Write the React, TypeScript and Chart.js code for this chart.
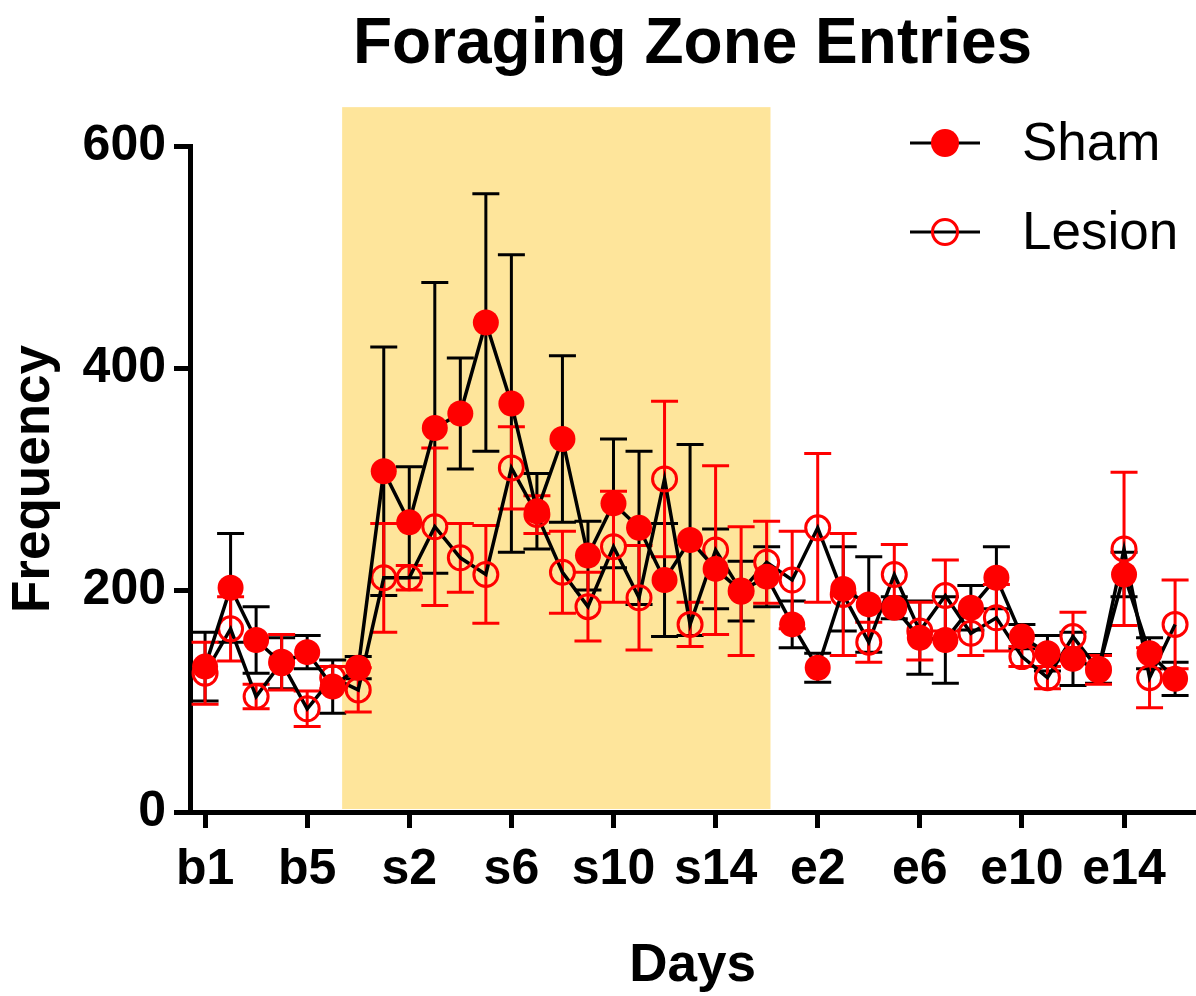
import { useEffect, useRef } from "react";
import { Chart, registerables } from "chart.js";

Chart.register(...registerables);

const days = [
  "b1", "b2", "b3", "b4", "b5", "b6", "b7",
  "s1", "s2", "s3", "s4", "s5", "s6", "s7", "s8", "s9", "s10", "s11", "s12", "s13", "s14", "s15", "s16",
  "e1", "e2", "e3", "e4", "e5", "e6", "e7", "e8", "e9", "e10", "e11", "e12", "e13", "e14", "e15", "e16",
];
const tickDays = ["b1", "b5", "s2", "s6", "s10", "s14", "e2", "e6", "e10", "e14"];
const yTicks = [0, 200, 400, 600];

const shamMean = [
  131, 202, 155, 134, 144, 113, 130,
  307, 261, 346, 359, 441, 368, 271, 336, 231, 278, 256, 209, 245, 219, 199, 212,
  169, 130, 201, 187, 184, 157, 155, 184, 211, 158, 143, 138, 129, 214, 143, 120,
];
const shamSem = [
  31, 49, 30, 23, 15, 24, 10,
  112, 50, 131, 50, 116, 134, 34, 75, 31, 58, 69, 51, 86, 36, 27, 27,
  21, 13, 38, 43, 10, 33, 39, 20, 28, 11, 16, 24, 13, 20, 14, 15,
];
const lesionMean = [
  125, 165, 104, 135, 93, 121, 110,
  211, 211, 257, 229, 214, 310, 268, 216, 185, 239, 193, 300, 169, 236, 199, 225,
  209, 256, 196, 153, 214, 163, 195, 161, 175, 140, 121, 158, 128, 237, 121, 169,
];
const lesionSem = [
  28, 29, 11, 25, 16, 10, 20,
  49, 11, 71, 31, 44, 37, 17, 37, 31, 50, 47, 70, 20, 76, 58, 37,
  44, 67, 55, 18, 27, 26, 32, 20, 30, 9, 10, 22, 13, 69, 27, 40,
];

// shaded "session" band, in axis units
const shadeStart = 5.37;
const shadeEnd = 22.15;
const shadeTop = 635;

const FONT = "'Liberation Sans', Arial, Helvetica, sans-serif";

export default function App() {
  const ref = useRef<HTMLCanvasElement | null>(null);

  useEffect(() => {
    if (!ref.current) return;

    const bgPlugin = {
      id: "bgShade",
      beforeDraw(chart: any) {
        const { ctx, scales } = chart;
        const x = scales.x, y = scales.y;
        ctx.save();
        ctx.fillStyle = "#ffffff";
        ctx.fillRect(0, 0, chart.width, chart.height);
        ctx.fillStyle = "#FEE59B";
        const x0 = x.getPixelForValue(shadeStart);
        const x1 = x.getPixelForValue(shadeEnd);
        const y0 = y.getPixelForValue(shadeTop);
        const y1 = y.getPixelForValue(0) - 3;
        ctx.fillRect(x0, y0, x1 - x0, y1 - y0);
        ctx.restore();
      },
    };

    const errPlugin = {
      id: "errBars",
      beforeDatasetsDraw(chart: any) {
        const { ctx, scales } = chart;
        const x = scales.x, y = scales.y;
        chart.data.datasets.forEach((ds: any) => {
          ctx.save();
          ctx.strokeStyle = ds.errColor;
          ctx.lineWidth = 3;
          ds.data.forEach((p: any, i: number) => {
            const e = ds.sem[i];
            const px = x.getPixelForValue(p.x);
            const top = y.getPixelForValue(p.y + e);
            const bot = y.getPixelForValue(p.y - e);
            const w = 13.5;
            ctx.beginPath();
            ctx.moveTo(px, top);
            ctx.lineTo(px, bot);
            ctx.moveTo(px - w, top);
            ctx.lineTo(px + w, top);
            ctx.moveTo(px - w, bot);
            ctx.lineTo(px + w, bot);
            ctx.stroke();
          });
          ctx.restore();
        });
      },
    };

    const textPlugin = {
      id: "titleLegend",
      afterDraw(chart: any) {
        const { ctx, chartArea } = chart;
        ctx.save();
        ctx.fillStyle = "#000";
        ctx.font = `bold 64px ${FONT}`;
        ctx.textAlign = "center";
        ctx.textBaseline = "alphabetic";
        ctx.fillText("Foraging Zone Entries", (chartArea.left + chartArea.right) / 2, 63);

        const rows = [143, 232];
        chart.data.datasets.forEach((ds: any, i: number) => {
          const cy = rows[i];
          ctx.strokeStyle = "#000";
          ctx.lineWidth = 3;
          ctx.beginPath();
          ctx.moveTo(910, cy);
          ctx.lineTo(980, cy);
          ctx.stroke();
          ctx.beginPath();
          ctx.arc(945, cy, ds.pointRadius + (ds.pointBorderWidth ? 0.5 : 1), 0, Math.PI * 2);
          if (ds.pointBorderWidth) {
            ctx.strokeStyle = ds.pointBorderColor;
            ctx.lineWidth = ds.pointBorderWidth;
            ctx.stroke();
          } else {
            ctx.fillStyle = ds.pointBackgroundColor;
            ctx.fill();
          }
          ctx.fillStyle = "#000";
          ctx.font = `53px ${FONT}`;
          ctx.textAlign = "left";
          ctx.textBaseline = "middle";
          ctx.fillText(ds.label, 1022, cy + 2);
        });
        ctx.restore();
      },
    };

    const chart = new Chart(ref.current, {
      type: "line",
      data: {
        datasets: [
          {
            label: "Sham",
            data: shamMean.map((v, i) => ({ x: i, y: v })),
            sem: shamSem,
            errColor: "#000000",
            borderColor: "#000000",
            borderWidth: 3.5,
            pointRadius: 13,
            pointHoverRadius: 13,
            pointBackgroundColor: "#FF0000",
            pointBorderColor: "#FF0000",
            pointBorderWidth: 0,
            tension: 0,
          } as any,
          {
            label: "Lesion",
            data: lesionMean.map((v, i) => ({ x: i, y: v })),
            sem: lesionSem,
            errColor: "#FF0000",
            borderColor: "#000000",
            borderWidth: 3.5,
            pointRadius: 12,
            pointHoverRadius: 12,
            pointBackgroundColor: "rgba(0,0,0,0)",
            pointBorderColor: "#FF0000",
            pointBorderWidth: 3,
            tension: 0,
          } as any,
        ],
      },
      options: {
        animation: false,
        responsive: false,
        maintainAspectRatio: false,
        events: [],
        layout: { autoPadding: false, padding: { left: 0, right: 1, top: 146, bottom: 0 } },
        plugins: {
          legend: { display: false },
          title: { display: false },
          tooltip: { enabled: false },
        },
        scales: {
          x: {
            type: "linear",
            min: -0.59,
            max: 38.78,
            afterFit(scale: any) {
              scale.height = 184;
            },
            afterBuildTicks(scale: any) {
              scale.ticks = tickDays.map((d) => ({ value: days.indexOf(d) }));
            },
            ticks: {
              autoSkip: false,
              maxRotation: 0,
              padding: 12,
              color: "#000",
              font: { family: FONT, size: 50, weight: "bold" },
              callback: (v: any) => days[Math.round(Number(v))],
            },
            grid: {
              display: true,
              drawOnChartArea: false,
              drawTicks: true,
              tickLength: 16,
              tickWidth: 5,
              tickColor: "#000",
            },
            border: { display: true, width: 5, color: "#000" },
            title: {
              display: true,
              text: "Days",
              color: "#000",
              font: { family: FONT, size: 53, weight: "bold", lineHeight: 1 },
              padding: { top: 0, bottom: 3 },
            },
          },
          y: {
            type: "linear",
            min: 0,
            max: 600,
            afterFit(scale: any) {
              scale.width = 190;
            },
            afterBuildTicks(scale: any) {
              scale.ticks = yTicks.map((v) => ({ value: v }));
            },
            ticks: {
              padding: 8,
              color: "#000",
              font: { family: FONT, size: 50, weight: "bold" },
            },
            grid: {
              display: true,
              drawOnChartArea: false,
              drawTicks: true,
              tickLength: 16,
              tickWidth: 5,
              tickColor: "#000",
            },
            border: { display: true, width: 5, color: "#000" },
            title: {
              display: true,
              text: "Frequency",
              color: "#000",
              font: { family: FONT, size: 53, weight: "bold", lineHeight: 1 },
              padding: { top: 8, bottom: 0 },
            },
          },
        },
      },
      plugins: [bgPlugin, errPlugin, textPlugin],
    });

    return () => chart.destroy();
  }, []);

  return (
    <div style={{ position: "fixed", left: 0, top: 0, width: 1196, height: 996, background: "#fff" }}>
      <canvas ref={ref} width={1196} height={996} style={{ width: 1196, height: 996, display: "block" }} />
    </div>
  );
}
